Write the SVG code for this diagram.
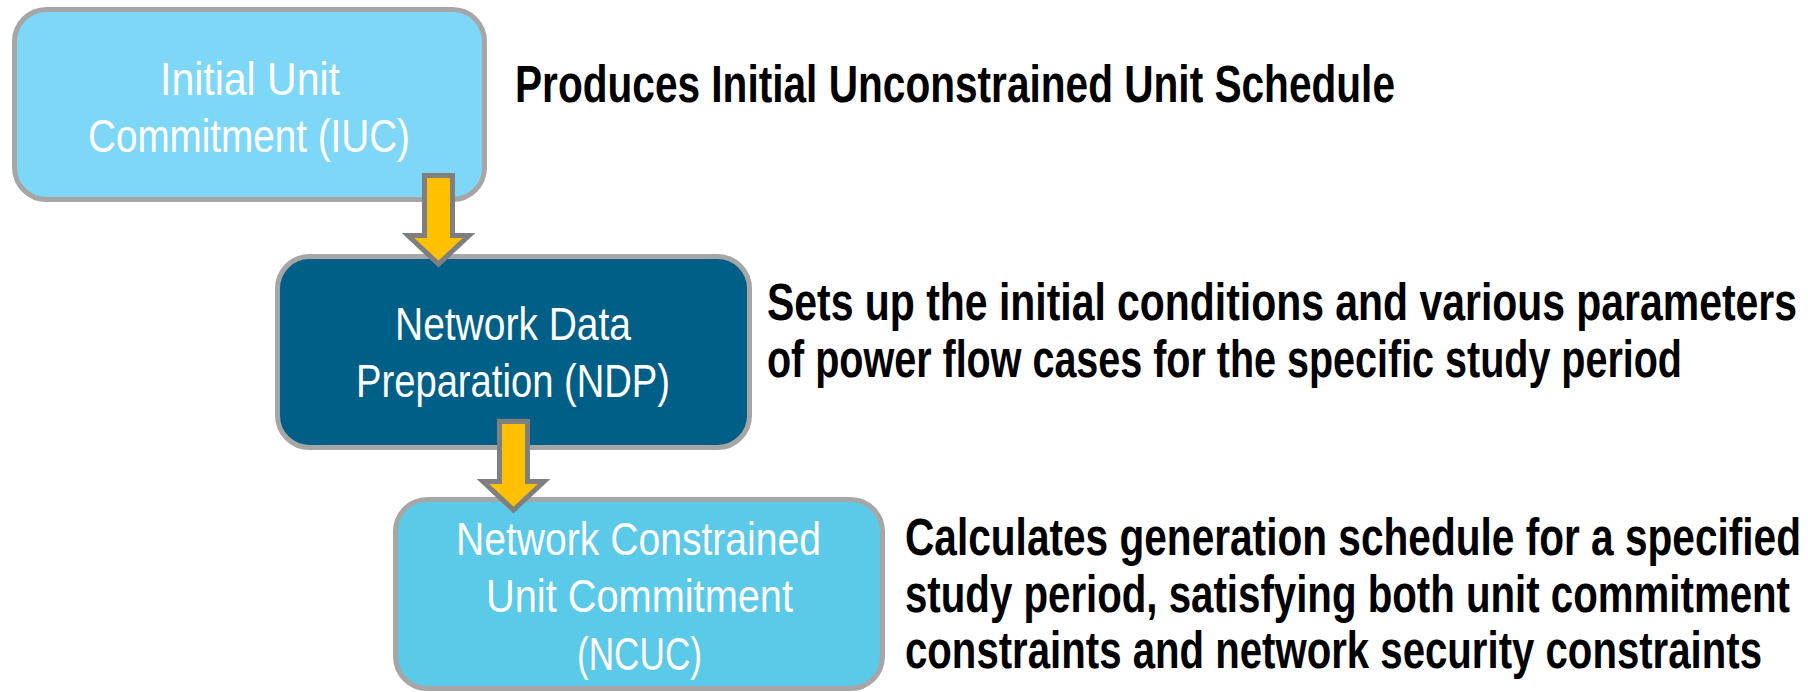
<svg xmlns="http://www.w3.org/2000/svg" width="1808" height="692" viewBox="0 0 1808 692">
  <style>
    .box { stroke: #a6a6a6; stroke-width: 5; }
    .iuc { fill: #7fd7f7; }
    .ndp { fill: #005f87; }
    .ncuc { fill: #5bc9e8; }
    .label { font-family: "Liberation Sans Narrow", "Liberation Sans", Arial, sans-serif; font-size: 47px; fill: #ffffff; text-anchor: middle; }
    .desc { font-family: "Liberation Sans Narrow", "Liberation Sans", Arial, sans-serif; font-size: 51px; font-weight: bold; fill: #000000; }
    .flow { fill: #ffc000; stroke: #7f7f7f; stroke-width: 5; stroke-linejoin: miter; }
  </style>
  <rect width="1808" height="692" fill="#ffffff"/>

  <g id="node-iuc">
    <rect class="box iuc" x="14.5" y="9.5" width="470" height="190" rx="32"/>
    <text class="label" x="250" y="95" textLength="180" lengthAdjust="spacingAndGlyphs">Initial Unit</text>
    <text class="label" x="249" y="152" textLength="322" lengthAdjust="spacingAndGlyphs">Commitment (IUC)</text>
  </g>

  <g id="node-ndp">
    <rect class="box ndp" x="277.5" y="256.5" width="472" height="191" rx="32"/>
    <text class="label" x="513" y="340" textLength="236" lengthAdjust="spacingAndGlyphs">Network Data</text>
    <text class="label" x="513" y="397" textLength="314" lengthAdjust="spacingAndGlyphs">Preparation (NDP)</text>
  </g>

  <g id="node-ncuc">
    <rect class="box ncuc" x="395.5" y="499.5" width="487" height="189" rx="32"/>
    <text class="label" x="638.5" y="555" textLength="365" lengthAdjust="spacingAndGlyphs">Network Constrained</text>
    <text class="label" x="639.5" y="612" textLength="307" lengthAdjust="spacingAndGlyphs">Unit Commitment</text>
    <text class="label" x="639.5" y="670" textLength="125" lengthAdjust="spacingAndGlyphs">(NCUC)</text>
  </g>

  <g id="connectors">
    <polygon class="flow" points="424.5,175.5 452.5,175.5 452.5,235.5 469,235.5 438.5,264 408,235.5 424.5,235.5"/>
    <polygon class="flow" points="499.5,421.5 527.5,421.5 527.5,481.5 544,481.5 513.5,510 483,481.5 499.5,481.5"/>
  </g>

  <g id="descriptions">
    <text class="desc" x="515" y="102" textLength="880" lengthAdjust="spacingAndGlyphs">Produces Initial Unconstrained Unit Schedule</text>
    <text class="desc" x="767" y="320" textLength="1030" lengthAdjust="spacingAndGlyphs">Sets up the initial conditions and various parameters</text>
    <text class="desc" x="767" y="377" textLength="915" lengthAdjust="spacingAndGlyphs">of power flow cases for the specific study period</text>
    <text class="desc" x="905" y="555" textLength="896" lengthAdjust="spacingAndGlyphs">Calculates generation schedule for a specified</text>
    <text class="desc" x="905" y="612" textLength="885" lengthAdjust="spacingAndGlyphs">study period, satisfying both unit commitment</text>
    <text class="desc" x="905" y="668" textLength="857" lengthAdjust="spacingAndGlyphs">constraints and network security constraints</text>
  </g>
</svg>
